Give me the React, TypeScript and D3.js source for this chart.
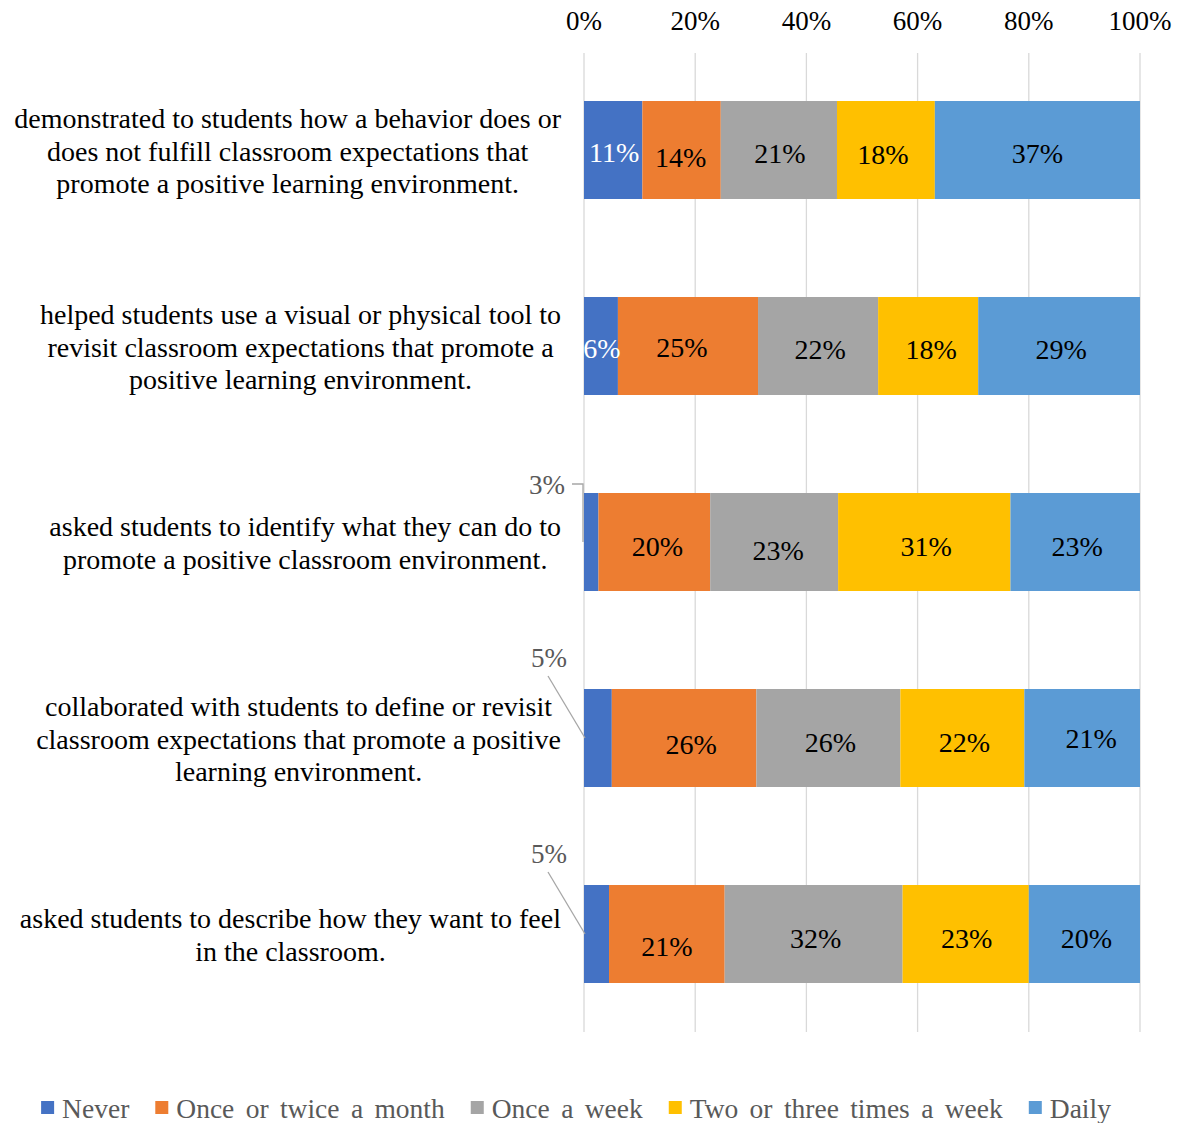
import React from "react";
import * as d3 from "d3";

const CATEGORY_LINES: string[][] = [
  ["demonstrated to students how a behavior does or", "does not fulfill classroom expectations that", "promote a positive learning environment."],
  ["helped students use a visual or physical tool to", "revisit classroom expectations that promote a", "positive learning environment."],
  ["asked students to identify what they can do to", "promote a positive classroom environment."],
  ["collaborated with students to define or revisit", "classroom expectations that promote a positive", "learning environment."],
  ["asked students to describe how they want to feel", "in the classroom."],
];
const SERIES = ["Never", "Once or twice a month", "Once a week", "Two or three times a week", "Daily"];
const NEVER = [10.5, 6.1, 2.6, 5.0, 4.5];
const MONTHLY = [14.1, 25.2, 20.1, 26.0, 20.8];
const WEEKLY = [20.9, 21.6, 23.0, 25.9, 32.0];
const TWO_THREE = [17.6, 18.0, 31.0, 22.3, 22.7];
const DAILY = [36.9, 29.1, 23.3, 20.8, 20.0];
const TICKS = [0, 20, 40, 60, 80, 100];

const COLORS = ["#4472C4", "#ED7D31", "#A5A5A5", "#FFC000", "#5B9BD5"];
const LABEL_COLORS = ["#FFFFFF", "#000000", "#000000", "#000000", "#000000"];
// label nudges [dx, dy] per row, per series (layout only)
const NUDGES: number[][][] = [
  [[1, 2], [-1, 7], [1, 3], [-3, 4], [0, 3]],
  [[1, 2], [-6, 1], [2, 3], [3, 3], [2, 3]],
  [[0, 0], [3, 4], [4, 8], [2, 4], [2, 4]],
  [[0, 0], [7, 6], [2, 4], [2, 4], [9, 0]],
  [[0, 0], [0, 12], [2, 4], [1, 4], [2, 4]],
];
const CALLOUT_ROWS = [2, 3, 4];

const W = 1192, H = 1123;
const FONT = "Liberation Serif";
const LEG_WORD_SPACING = 4.5;

function measure(text: string, size: number, wordSpacing = 0): number {
  const c = document.createElement("canvas").getContext("2d")!;
  c.font = `${size}px "${FONT}"`;
  const spaces = (text.match(/ /g) || []).length;
  return c.measureText(text).width + spaces * wordSpacing;
}

export default function App() {
  const rows = CATEGORY_LINES.map((_, i) => ({
    i,
    [SERIES[0]]: NEVER[i],
    [SERIES[1]]: MONTHLY[i],
    [SERIES[2]]: WEEKLY[i],
    [SERIES[3]]: TWO_THREE[i],
    [SERIES[4]]: DAILY[i],
  }));
  const stacked = d3.stack<any>().keys(SERIES)(rows);
  const x = d3.scaleLinear().domain([0, 100]).range([584, 1140]);
  const y = d3
    .scaleBand<number>()
    .domain(rows.map((r) => r.i))
    .range([52, 1032])
    .paddingInner(0.5)
    .paddingOuter(0.25);
  const bw = y.bandwidth();

  const catSize = 28;
  const lineH = 32.5;
  const labelRight = 561;

  const legSize = 27.5;
  const sq = 13;
  const items = SERIES.map((s) => ({ s, w: measure(s, legSize, LEG_WORD_SPACING) }));
  const total = items.reduce((a, it) => a + sq + 8 + it.w, 0) + 26 * (items.length - 1);
  let lx = 576 - total / 2;
  const legend = items.map((it, k) => {
    const pos = lx;
    lx += sq + 8 + it.w + 26;
    return { ...it, x: pos, k };
  });

  const tf = { fontFamily: FONT };

  return (
    <svg width={W} height={H} style={{ position: "absolute", left: 0, top: 0, background: "#fff", fontFamily: FONT }}>
      {TICKS.map((t) => (
        <line key={t} x1={x(t)} x2={x(t)} y1={53} y2={1032} stroke="#D9D9D9" strokeWidth={1.3} />
      ))}
      {TICKS.map((t) => (
        <text key={"t" + t} x={x(t)} y={29.5} textAnchor="middle" fontSize={27} fill="#000" style={tf}>
          {t}%
        </text>
      ))}
      {stacked.map((layer, si) =>
        layer.map((d, ri) => (
          <rect
            key={si + "-" + ri}
            x={x(d[0])}
            y={y(ri)!}
            width={x(d[1]) - x(d[0])}
            height={bw}
            fill={COLORS[si]}
          />
        ))
      )}
      {stacked.map((layer, si) =>
        layer.map((d, ri) => {
          if (si === 0 && CALLOUT_ROWS.includes(ri)) return null;
          const [dx, dy] = NUDGES[ri][si];
          const cx = (x(d[0]) + x(d[1])) / 2 + dx;
          const cy = y(ri)! + bw / 2 + dy;
          return (
            <text
              key={"l" + si + "-" + ri}
              x={cx}
              y={cy + 9.5}
              textAnchor="middle"
              fontSize={28}
              fill={LABEL_COLORS[si]}
              style={tf}
            >
              {Math.round(d[1] - d[0])}%
            </text>
          );
        })
      )}
      {CALLOUT_ROWS.map((ri) => {
        const d = stacked[0][ri];
        const v = Math.round(d[1] - d[0]);
        const top = y(ri)!;
        const cy = top + bw / 2;
        const x0 = x(0);
        if (ri === 2) {
          const ly = top - 9;
          return (
            <g key={"c" + ri}>
              <path d={`M${x0 - 12},${ly} H${x0 - 1} V${cy}`} fill="none" stroke="#A6A6A6" strokeWidth={1.3} />
              <text x={x0 - 37} y={ly + 9.5} textAnchor="middle" fontSize={27} fill="#595959" style={tf}>
                {v}%
              </text>
            </g>
          );
        }
        const ly = top - 32;
        const lineEndY = ri === 3 ? cy : top + 49;
        return (
          <g key={"c" + ri}>
            <line x1={x0 - 36} y1={ly + 19} x2={x0 + 1} y2={lineEndY} stroke="#A6A6A6" strokeWidth={1.3} />
            <text x={x0 - 35} y={ly + 9.5} textAnchor="middle" fontSize={27} fill="#595959" style={tf}>
              {v}%
            </text>
          </g>
        );
      })}
      {CATEGORY_LINES.map((lines, ri) => {
        const maxW = Math.max(...lines.map((l) => measure(l, catSize)));
        const cx = labelRight - maxW / 2;
        const cy = y(ri)! + bw / 2 + 1;
        const startY = cy - ((lines.length - 1) * lineH) / 2;
        return (
          <text key={"cat" + ri} textAnchor="middle" fontSize={catSize} fill="#000" style={tf}>
            {lines.map((l, k) => (
              <tspan key={k} x={cx} y={startY + k * lineH + 9.5}>
                {l}
              </tspan>
            ))}
          </text>
        );
      })}
      {legend.map((it) => (
        <g key={it.s}>
          <rect x={it.x} y={1101} width={sq} height={sq} fill={COLORS[it.k]} />
          <text
            x={it.x + sq + 8}
            y={1118}
            fontSize={legSize}
            fill="#595959"
            style={{ fontFamily: FONT, wordSpacing: LEG_WORD_SPACING }}
          >
            {it.s}
          </text>
        </g>
      ))}
    </svg>
  );
}
